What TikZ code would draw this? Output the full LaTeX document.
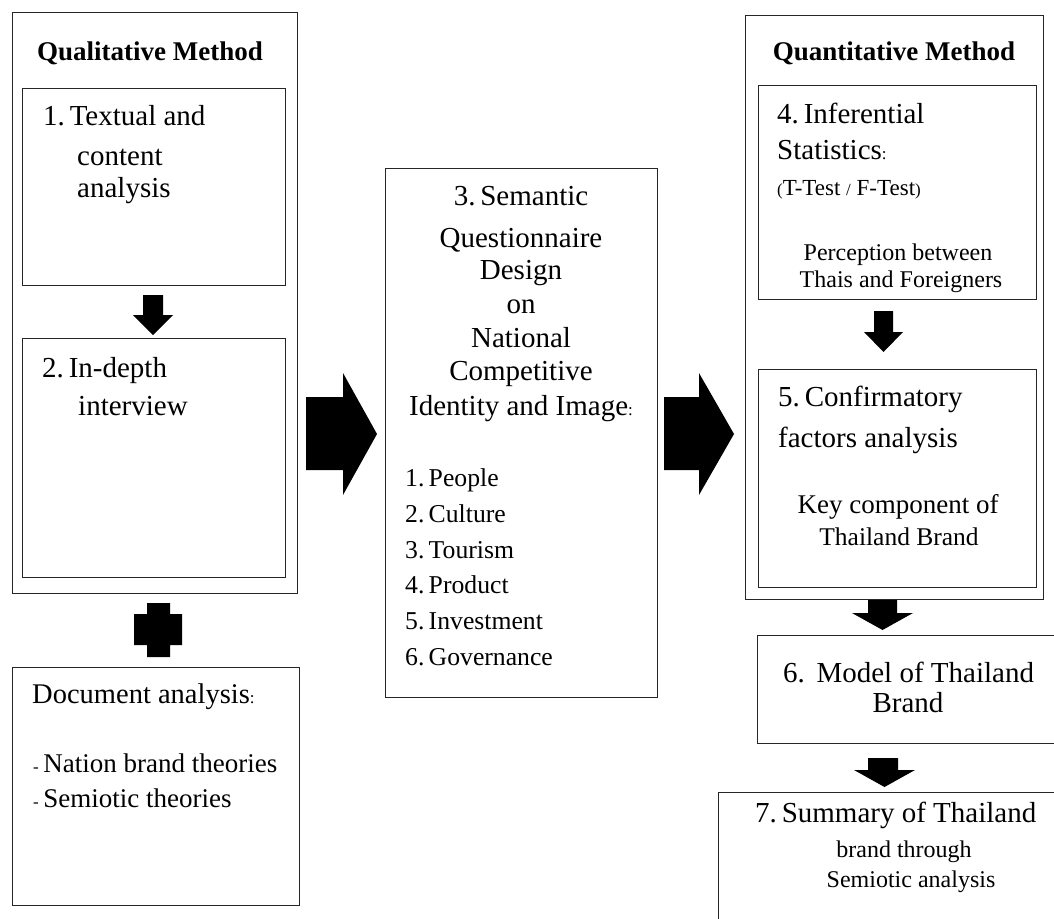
\documentclass[tikz,border=0pt]{standalone}
\usepackage{fontspec}
\setmainfont{Liberation Serif}
\begin{document}
\begin{tikzpicture}[x=1pt,y=-1pt,
  box/.style={draw=black!85, line width=1.3pt, inner sep=0pt, anchor=north west},
  txt/.style={inner sep=0pt, font=\fontsize{29}{34}\selectfont},
  doc/.style={inner sep=0pt, font=\fontsize{27}{32}\selectfont},
  lst/.style={inner sep=0pt, font=\fontsize{25.7}{30}\selectfont},
  ttl/.style={inner sep=0pt, font=\fontsize{27}{32}\selectfont\bfseries},
  mid/.style={inner sep=0pt, font=\fontsize{24}{28}\selectfont},
  sml/.style={inner sep=0pt, font=\fontsize{23}{27}\selectfont},
  blk/.style={fill=black, draw=none}]
\useasboundingbox (0,0) rectangle (1054,918);
\clip (0,0) rectangle (1054,918);

% frames: name, left, top, right, bottom
\newcommand\frameat[5]{\node[box, minimum width={#4-#2}, minimum height={#5-#3}] (#1) at (#2,#3) {};}
\newcommand\tinych[1]{{\fontsize{17}{20}\selectfont #1}}
\frameat{qual}{12}{12}{297}{593}
\frameat{textual}{22}{88}{285}{285}
\frameat{interview}{22}{338}{285}{577}
\frameat{docs}{12}{667}{299}{905}
\frameat{semantic}{385}{168}{657}{697}
\frameat{quant}{745}{15}{1043}{599}
\frameat{infer}{758}{85}{1036}{299}
\frameat{cfa}{758}{369}{1036}{587}
\frameat{model}{757}{635}{1075}{743}
\frameat{summary}{718}{792}{1075}{940}

% block arrows
\fill[blk] (143,295) -- (163,295) -- (163,315) -- (173,315) -- (153,335) -- (133,315) -- (143,315) -- cycle;
\fill[blk] (874,311) -- (893,311) -- (893,332) -- (903,332) -- (883.5,352) -- (864,332) -- (874,332) -- cycle;
\fill[blk] (868,600) -- (897,600) -- (897,613) -- (913,613) -- (882.5,630) -- (852,613) -- (868,613) -- cycle;
\fill[blk] (868,758) -- (898,758) -- (898,770) -- (915,770) -- (884.5,787) -- (854,770) -- (868,770) -- cycle;
\fill[blk] (306,397) -- (343,397) -- (343,373) -- (377,434) -- (343,495) -- (343,470) -- (306,470) -- cycle;
\fill[blk] (664,397) -- (699,397) -- (699,373) -- (734,434) -- (699,495) -- (699,470) -- (664,470) -- cycle;
% plus sign
\fill[blk] (147,603) -- (170,603) -- (170,614) -- (182,614) -- (182,645) -- (170,645) -- (170,657)
  -- (147,657) -- (147,645) -- (134,645) -- (134,614) -- (147,614) -- cycle;

% qualitative column
\node[ttl, anchor=base] (qualT) at (150,60) {Qualitative Method};
\node[txt, anchor=base west] (t1a) at (43,125) {1.\,Textual and};
\node[txt, anchor=base west] (t1b) at (77,165) {content};
\node[txt, anchor=base west] (t1c) at (77,197) {analysis};
\node[txt, anchor=base west] (t2a) at (42,377) {2.\,In-depth};
\node[txt, anchor=base west] (t2b) at (78,415) {interview};
\node[doc, font=\fontsize{28.5}{33}\selectfont, anchor=base west] (da) at (32,703) {Document analysis\tinych{:}};
\node[doc, anchor=base west] (db) at (33,772) {\tinych{-}\,Nation brand theories};
\node[doc, anchor=base west] (dc) at (33,807) {\tinych{-}\,Semiotic theories};

% semantic questionnaire
\foreach \y/\s [count=\i] in {205/{3.\,Semantic}, 247/Questionnaire, 279/Design, 313/on,
    347/National, 380/Competitive, 415/{Identity and Image\tinych{:}}}
  \node[txt, anchor=base] (sq\i) at (521,\y) {\s};
\foreach \y/\s [count=\i] in {486/People, 522/Culture, 558/Tourism, 593/Product, 629/Investment, 665/Governance}
  \node[lst, anchor=base west] (li\i) at (405,\y) {\i.\,\s};

% quantitative column
\node[ttl, anchor=base] (quantT) at (894,60) {Quantitative Method};
\node[txt, anchor=base west] (t4a) at (777,123) {4.\,Inferential};
\node[txt, anchor=base west] (t4b) at (777,159) {Statistics\tinych{:}};
\node[sml, anchor=base west] (t4c) at (777,195) {\tinych{(}T-Test \tinych{/} F-Test\tinych{)}};
\node[mid, anchor=base] (t4d) at (898,260) {Perception between};
\node[mid, anchor=base] (t4e) at (901,287) {Thais and Foreigners};
\node[txt, anchor=base west] (t5a) at (778,406) {5.\,Confirmatory};
\node[txt, anchor=base west] (t5b) at (778,447) {factors analysis};
\node[doc, anchor=base] (t5c) at (898,513) {Key component of};
\node[doc, font=\fontsize{25.5}{30}\selectfont, anchor=base] (t5d) at (899,545) {Thailand Brand};
\node[txt, anchor=base west] (t6a) at (783,682) {6.\hspace{0.4em}Model of Thailand};
\node[txt, anchor=base] (t6b) at (908,712) {Brand};
\node[txt, anchor=base west] (t7a) at (755,822) {7.\,Summary of Thailand};
\node[mid, anchor=base] (t7b) at (904,857) {brand through};
\node[mid, anchor=base] (t7c) at (911,887) {Semiotic analysis};
\end{tikzpicture}
\end{document}
